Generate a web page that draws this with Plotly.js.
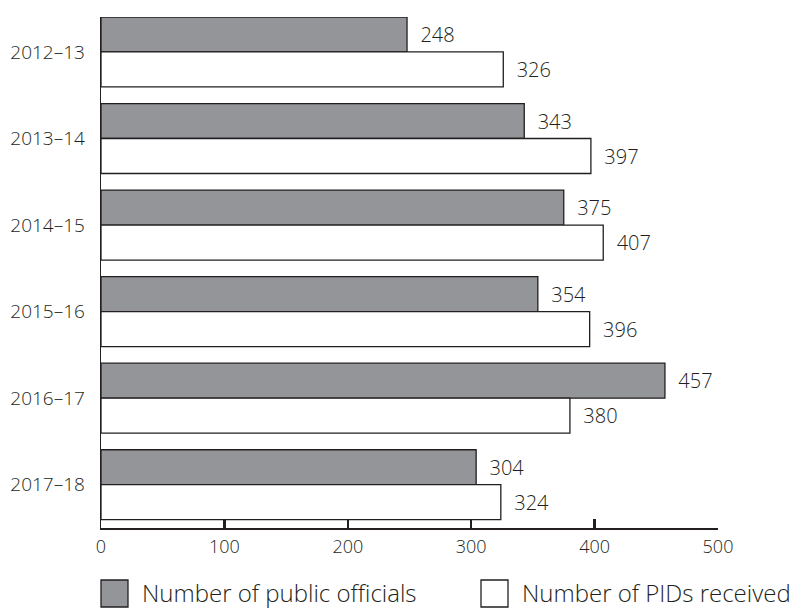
<!DOCTYPE html>
<html>
<head>
<meta charset="utf-8">
<script src="https://cdn.plot.ly/plotly-3.0.1.min.js"></script>
<style>
  html, body { margin: 0; padding: 0; background: #ffffff; }
  #chart { width: 808px; height: 608px; }
</style>
</head>
<body>
<div id="chart"></div>
<script>
// ---- data ----
const years = ["2012–13", "2013–14", "2014–15", "2015–16", "2016–17", "2017–18"];
const officials = [248, 343, 375, 354, 457, 304];
const pids = [326, 397, 407, 396, 380, 324];
const seriesNames = ["Number of public officials", "Number of PIDs received"];
const xTicks = [0, 100, 200, 300, 400, 500];

// ---- styles ----
const ink = "#231f20";
const textCol = "#231f20";
const grey = "#939598";
const fontFam = "'Open Sans', 'Noto Sans', sans-serif";
const fontW = 300;
const W = 808, H = 608;
const M = { l: 101, r: 90, t: 17, b: 80 };
const plotW = W - M.l - M.r, plotH = H - M.t - M.b;
const pad = "\u00a0\u00a0";

function barTrace(vals, name, fill) {
  return {
    type: "bar",
    orientation: "h",
    y: years,
    x: vals,
    name: name,
    marker: { color: fill, line: { color: ink, width: 1.3 } },
    text: vals.map(v => pad + v),
    textposition: "outside",
    textfont: { family: fontFam, size: 20, color: textCol, weight: fontW },
    cliponaxis: false,
    showlegend: false,
    hoverinfo: "x+y+name"
  };
}

const traces = [
  barTrace(officials, seriesNames[0], grey),
  barTrace(pids, seriesNames[1], "#ffffff")
];

// legend drawn as layout decoration from series names / colours
const px2x = p => (p - M.l) / plotW;
const px2y = p => (H - M.b - p) / plotH;
const legendItems = [
  { name: seriesNames[0], fill: grey, sx: 101 },
  { name: seriesNames[1], fill: "#ffffff", sx: 481 }
];
const boxSize = 27, boxTop = 580;
const shapes = legendItems.map(it => ({
  type: "rect", xref: "paper", yref: "paper",
  x0: px2x(it.sx), x1: px2x(it.sx + boxSize),
  y0: px2y(boxTop + boxSize), y1: px2y(boxTop),
  fillcolor: it.fill, line: { color: ink, width: 1.3 }
}));
const annotations = legendItems.map(it => ({
  xref: "paper", yref: "paper",
  x: px2x(it.sx + boxSize + 12), y: px2y(boxTop + boxSize / 2 - 1),
  xanchor: "left", yanchor: "middle",
  text: it.name, showarrow: false,
  font: { family: fontFam, size: 24, color: textCol, weight: fontW }
}));

const layout = {
  width: W, height: H,
  margin: M,
  paper_bgcolor: "#ffffff",
  plot_bgcolor: "#ffffff",
  barmode: "group",
  bargap: 0.192,
  bargroupgap: 0,
  font: { family: fontFam, color: textCol, weight: fontW },
  xaxis: {
    range: [0, 500],
    tickvals: xTicks,
    ticks: "inside",
    ticklen: 9,
    tickwidth: 2.5,
    tickcolor: ink,
    showline: true,
    linecolor: ink,
    linewidth: 1.6,
    showgrid: false,
    zeroline: false,
    ticklabelstandoff: 2,
    tickfont: { family: fontFam, size: 18, color: textCol, weight: fontW },
    fixedrange: true
  },
  yaxis: {
    type: "category",
    categoryorder: "array",
    categoryarray: years,
    range: [5.5, -0.404],
    showline: true,
    linecolor: ink,
    linewidth: 1.3,
    showgrid: false,
    zeroline: false,
    ticks: "",
    ticklabelstandoff: 11,
    tickfont: { family: fontFam, size: 19, color: textCol, weight: fontW },
    fixedrange: true
  },
  shapes: shapes,
  annotations: annotations
};

Plotly.newPlot("chart", traces, layout, { displayModeBar: false, staticPlot: true });
</script>
</body>
</html>
